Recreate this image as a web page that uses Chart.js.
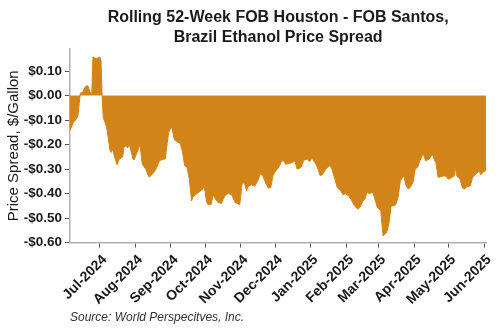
<!DOCTYPE html>
<html>
<head>
<meta charset="utf-8">
<script src="https://cdn.jsdelivr.net/npm/chart.js@4.4.1/dist/chart.umd.min.js"></script>
<style>
  html, body { margin: 0; padding: 0; background: #fff; }
  #wrap { width: 500px; height: 330px; }
</style>
</head>
<body>
<div id="wrap"><canvas id="spreadChart" width="500" height="330"></canvas></div>
<script>
// Spread readings (FOB Houston minus FOB Santos), $/gallon
const obsDates = [
  '2024-06-05', '2024-06-08', '2024-06-10', '2024-06-12', '2024-06-14', '2024-06-16', '2024-06-18', '2024-06-20',
  '2024-06-21', '2024-06-22', '2024-06-24', '2024-06-25', '2024-06-28', '2024-07-01', '2024-07-02', '2024-07-03',
  '2024-07-04', '2024-07-07', '2024-07-10', '2024-07-11', '2024-07-12', '2024-07-14', '2024-07-16', '2024-07-18',
  '2024-07-21', '2024-07-22', '2024-07-24', '2024-07-25', '2024-07-27', '2024-07-30', '2024-07-31', '2024-08-03',
  '2024-08-05', '2024-08-07', '2024-08-10', '2024-08-13', '2024-08-16', '2024-08-19', '2024-08-22', '2024-08-25',
  '2024-08-27', '2024-08-30', '2024-09-01', '2024-09-02', '2024-09-04', '2024-09-06', '2024-09-09', '2024-09-11',
  '2024-09-13', '2024-09-15', '2024-09-17', '2024-09-19', '2024-09-20', '2024-09-23', '2024-09-26', '2024-09-29',
  '2024-09-30', '2024-10-02', '2024-10-03', '2024-10-06', '2024-10-08', '2024-10-09', '2024-10-12', '2024-10-15',
  '2024-10-18', '2024-10-21', '2024-10-24', '2024-10-27', '2024-10-30', '2024-10-31', '2024-11-02', '2024-11-04',
  '2024-11-06', '2024-11-07', '2024-11-10', '2024-11-13', '2024-11-16', '2024-11-18', '2024-11-20', '2024-11-23',
  '2024-11-25', '2024-11-27', '2024-11-29', '2024-12-01', '2024-12-03', '2024-12-06', '2024-12-08', '2024-12-10',
  '2024-12-13', '2024-12-16', '2024-12-18', '2024-12-20', '2024-12-23', '2024-12-26', '2024-12-29', '2024-12-31',
  '2025-01-02', '2025-01-05', '2025-01-07', '2025-01-09', '2025-01-11', '2025-01-14', '2025-01-17', '2025-01-19',
  '2025-01-22', '2025-01-24', '2025-01-27', '2025-01-29', '2025-01-31', '2025-02-03', '2025-02-05', '2025-02-08',
  '2025-02-11', '2025-02-13', '2025-02-15', '2025-02-17', '2025-02-19', '2025-02-21', '2025-02-24', '2025-02-25',
  '2025-02-28', '2025-03-03', '2025-03-04', '2025-03-05', '2025-03-08', '2025-03-10', '2025-03-12', '2025-03-14',
  '2025-03-16', '2025-03-18', '2025-03-20', '2025-03-23', '2025-03-25', '2025-03-27', '2025-03-29', '2025-03-31',
  '2025-04-02', '2025-04-04', '2025-04-06', '2025-04-09', '2025-04-11', '2025-04-14', '2025-04-17', '2025-04-19',
  '2025-04-20', '2025-04-22', '2025-04-25', '2025-04-28', '2025-05-01', '2025-05-04', '2025-05-06', '2025-05-07',
  '2025-05-08', '2025-05-11', '2025-05-13', '2025-05-15', '2025-05-17', '2025-05-20', '2025-05-22', '2025-05-25',
  '2025-05-28', '2025-05-29', '2025-05-31', '2025-06-03'
];
const spreadValues = [
  -0.143, -0.109, -0.100, -0.080, 0.010, 0.013, 0.034, 0.041,
  0.037, 0.018, 0.004, 0.157, 0.150, 0.157, 0.143, 0.000,
  -0.089, -0.130, -0.225, -0.232, -0.218, -0.252, -0.282, -0.259,
  -0.250, -0.211, -0.204, -0.213, -0.204, -0.259, -0.262, -0.225,
  -0.198, -0.280, -0.300, -0.333, -0.320, -0.300, -0.266, -0.260,
  -0.259, -0.150, -0.130, -0.135, -0.180, -0.187, -0.195, -0.228,
  -0.286, -0.293, -0.340, -0.430, -0.416, -0.402, -0.392, -0.380,
  -0.365, -0.432, -0.443, -0.445, -0.402, -0.416, -0.436, -0.440,
  -0.409, -0.400, -0.405, -0.436, -0.443, -0.445, -0.361, -0.355,
  -0.389, -0.372, -0.364, -0.370, -0.345, -0.318, -0.327, -0.361,
  -0.378, -0.375, -0.327, -0.309, -0.300, -0.273, -0.263, -0.280,
  -0.277, -0.273, -0.266, -0.300, -0.295, -0.263, -0.259, -0.270,
  -0.255, -0.277, -0.296, -0.327, -0.323, -0.300, -0.286, -0.295,
  -0.341, -0.375, -0.389, -0.405, -0.400, -0.409, -0.423, -0.450,
  -0.464, -0.455, -0.432, -0.423, -0.395, -0.400, -0.395, -0.410,
  -0.457, -0.470, -0.525, -0.573, -0.559, -0.525, -0.450, -0.450,
  -0.445, -0.416, -0.348, -0.327, -0.368, -0.382, -0.372, -0.355,
  -0.300, -0.293, -0.266, -0.236, -0.266, -0.260, -0.239, -0.266,
  -0.273, -0.334, -0.330, -0.327, -0.341, -0.334, -0.327, -0.290,
  -0.327, -0.341, -0.375, -0.382, -0.372, -0.368, -0.334, -0.318,
  -0.309, -0.323, -0.314, -0.304
];

// Month ticks on the x axis
const tickDates = [
  '2024-07-01', '2024-08-01', '2024-09-01', '2024-10-01', '2024-11-01', '2024-12-01',
  '2025-01-01', '2025-02-01', '2025-03-01', '2025-04-01', '2025-05-01', '2025-06-01'
];
const tickLabels = [
  'Jul-2024', 'Aug-2024', 'Sep-2024', 'Oct-2024', 'Nov-2024', 'Dec-2024',
  'Jan-2025', 'Feb-2025', 'Mar-2025', 'Apr-2025', 'May-2025', 'Jun-2025'
];

// Visible window of the x axis
const axisStart = '2024-06-05';
const axisEnd = '2025-06-03';

// Convert a YYYY-MM-DD string to a day number (no date adapter needed)
function dayNum(s) {
  return Date.parse(s) / 86400000;
}

// Format a value as dollars, e.g. -$0.30
function dollars(v) {
  const r = Math.round(v * 100) / 100;
  return (r < 0 ? '-' : '') + '$' + Math.abs(r).toFixed(2);
}

const points = obsDates.map((d, i) => ({ x: dayNum(d), y: spreadValues[i] }));
const tickDays = tickDates.map(dayNum);

const orange = '#D38419';
const textColor = '#1a1a1a';

new Chart(document.getElementById('spreadChart'), {
  type: 'line',
  data: {
    datasets: [{
      label: 'Spread',
      data: points,
      borderColor: orange,
      backgroundColor: orange,
      borderWidth: 1,
      pointRadius: 0,
      tension: 0,
      fill: 'origin'
    }]
  },
  options: {
    responsive: false,
    animation: false,
    layout: { padding: { left: 0, right: 8, top: 0, bottom: 0 } },
    plugins: {
      legend: { display: false },
      tooltip: { enabled: false },
      title: {
        display: true,
        fullSize: false,
        text: ['Rolling 52-Week FOB Houston - FOB Santos,', 'Brazil Ethanol Price Spread'],
        color: textColor,
        font: { family: 'Liberation Sans, Arial, sans-serif', size: 16, weight: 'bold', lineHeight: 1.25 },
        padding: { top: 8, bottom: 1 }
      },
      subtitle: {
        display: true,
        fullSize: false,
        position: 'bottom',
        align: 'start',
        text: 'Source: World Perspecitves, Inc.',
        color: '#333',
        font: { family: 'Liberation Sans, Arial, sans-serif', size: 12, style: 'italic', lineHeight: 1.2 },
        padding: { top: 5, bottom: 5 }
      }
    },
    scales: {
      x: {
        type: 'linear',
        min: dayNum(axisStart),
        max: dayNum(axisEnd),
        afterBuildTicks: scale => {
          scale.ticks = tickDays.map(v => ({ value: v }));
        },
        afterFit: scale => { scale.height = 63; },
        ticks: {
          autoSkip: false,
          minRotation: 45,
          maxRotation: 45,
          padding: 4,
          labelOffset: 5,
          color: textColor,
          font: { family: 'Liberation Sans, Arial, sans-serif', size: 14, weight: 'bold' },
          callback: value => tickLabels[tickDays.indexOf(value)]
        },
        grid: { drawOnChartArea: false, drawTicks: true, tickLength: 5, color: '#555' },
        border: { color: '#b0b0b0', width: 1.5 }
      },
      y: {
        min: -0.6,
        max: 0.19,
        // keep the $0.10 .. -$0.60 labels, drop the top bound
        afterBuildTicks: scale => {
          scale.ticks = scale.ticks.filter(t => t.value <= 0.1001);
        },
        afterFit: scale => { scale.width = 70; },
        title: {
          display: true,
          text: 'Price Spread, $/Gallon',
          color: textColor,
          font: { family: 'Liberation Sans, Arial, sans-serif', size: 15, lineHeight: 1.2 },
          padding: { top: 5, bottom: 0 }
        },
        ticks: {
          stepSize: 0.1,
          padding: 3,
          color: textColor,
          font: { family: 'Liberation Sans, Arial, sans-serif', size: 13.5, weight: 'bold' },
          callback: value => dollars(value)
        },
        grid: { drawOnChartArea: false, drawTicks: true, tickLength: 5, color: '#555' },
        border: { color: '#b0b0b0', width: 1.5 }
      }
    }
  }
});
</script>
</body>
</html>
